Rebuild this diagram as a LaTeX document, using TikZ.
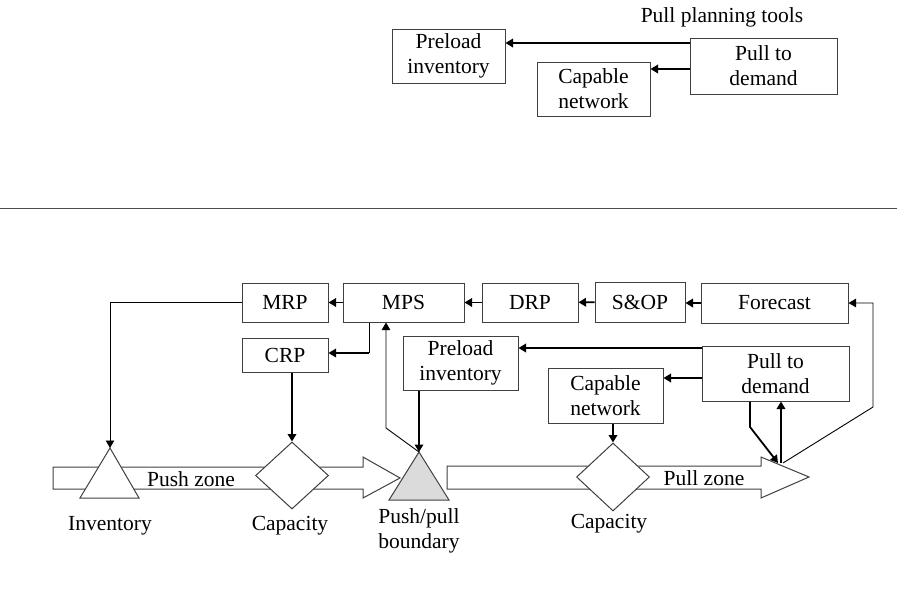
\documentclass[tikz,border=0pt]{standalone}
\usepackage{fontspec}
\setmainfont{Liberation Serif}
\usetikzlibrary{arrows.meta,shapes.geometric}

\begin{document}
\begin{tikzpicture}[x=1pt,y=-1pt,
  txt/.style={font=\fontsize{21.5}{25}\selectfont},
  box/.style={txt, draw=black!75, line width=1pt, fill=white, inner sep=0pt, align=center},
  lbl/.style={txt, inner sep=0pt, align=center},
  tip/.style={-{Triangle[length=7.5pt,width=8.5pt]}},
  thk/.style={line width=1.8pt, tip},
  thn/.style={line width=0.9pt, tip},
  plain/.style={line width=0.9pt},
  zone/.style={draw=black!75, line width=1pt, fill=white},
  dia/.style={diamond, draw=black!75, line width=1pt, fill=white, inner sep=0pt,
              minimum width=73pt, minimum height=67pt},
  tri/.style={draw=black!75, line width=1pt, fill=white},
]
\useasboundingbox (0,0) rectangle (897,590);

% ---------- pull planning tools legend ----------
\node[lbl, anchor=base] (title) at (722,22) {Pull planning tools};
\node[box, minimum width=113pt, minimum height=54pt] (pre1) at (448.5,56) {Preload\\inventory};
\node[box, minimum width=113pt, minimum height=54pt] (cap1) at (593.5,89) {Capable\\network};
\node[box, minimum width=147pt, minimum height=56pt] (ptd1) at (763.5,66) {Pull to\\demand};
\coordinate (r1) at (0,43);
\coordinate (r2) at (0,69);
\draw[thk] (ptd1.west |- r1) -- (pre1.east |- r1);
\draw[thk] (ptd1.west |- r2) -- (cap1.east |- r2);

% separator
\draw[line width=0.9pt, black!70] (0,208) -- (897,208);

% ---------- zone block arrows ----------
\draw[zone] (53,467) -- (363,467) -- (363,457) -- (400,478) -- (363,498) -- (363,489) -- (53,489) -- cycle;
\draw[zone] (447,466) -- (761,466) -- (761,457) -- (809,477) -- (761,498) -- (761,489) -- (447,489) -- cycle;
\node[lbl, anchor=base] (pushz) at (191,486) {Push zone};
\node[lbl, anchor=base] (pullz) at (704,485) {Pull zone};

% markers on the flow
\coordinate (inv) at (110,448);
\draw[tri] (inv) -- (80,498) -- (139,498) -- cycle;
\node[dia] (dia1) at (292,475.5) {};
\coordinate (bnd) at (419,452);
\draw[tri, fill=black!14] (bnd) -- (389,500) -- (449,500) -- cycle;
\node[dia, minimum height=68pt] (dia2) at (613,477) {};

\node[lbl, anchor=base] (invl) at (110,530) {Inventory};
\node[lbl, anchor=base] (capl1) at (290,530) {Capacity};
\node[lbl] (bndl) at (419,531) {Push/pull\\boundary};
\node[lbl, anchor=base] (capl2) at (609,528) {Capacity};

% ---------- planning chain ----------
\node[box, minimum width=86pt, minimum height=39pt] (mrp) at (285,302.5) {MRP};
\node[box, minimum width=121pt, minimum height=39pt] (mps) at (403.5,302.5) {MPS};
\node[box, minimum width=96pt, minimum height=39pt] (drp) at (530,302.5) {DRP};
\node[box, minimum width=90pt, minimum height=40pt] (sop) at (640,302) {S\&OP};
\node[box, minimum width=147pt, minimum height=40pt] (fc) at (774.5,303) {Forecast};
\node[box, minimum width=86pt, minimum height=34pt] (crp) at (285,355) {CRP};
\node[box, minimum width=115pt, minimum height=54pt] (pre) at (460.5,363) {Preload\\inventory};
\node[box, minimum width=115pt, minimum height=55pt] (cap) at (605.5,395.5) {Capable\\network};
\node[box, minimum width=147pt, minimum height=55pt] (ptd) at (775.5,373.5) {Pull to\\demand};

\draw[thk] (mps) -- (mrp);
\draw[thk] (drp) -- (mps);
\draw[thk] (sop) -- (drp);
\draw[thk] (fc) -- (sop.east |- fc.west);

% MRP drives inventory
\draw[thn] (mrp.west) -| (inv);
% MPS drives CRP, CRP checks capacity
\coordinate (m1) at (369,353);
\draw[plain] (mps.south -| m1) -- (m1);
\draw[line width=1.5pt, tip] (m1) -- (crp.east |- m1);
\draw[thk] (crp.south -| dia1.north) -- (dia1.north);
% boundary feeds back to MPS
\coordinate (b1) at (386,428);
\draw[thn] (bnd) -- (b1) -- (mps.south -| b1);
% preload inventory to boundary
\draw[thk] (pre.south -| bnd) -- (bnd);

% pull tools
\coordinate (r3) at (0,348);
\coordinate (r4) at (0,378);
\draw[thk] (ptd.west |- r3) -- (pre.east |- r3);
\draw[thk] (ptd.west |- r4) -- (cap.east |- r4);
\draw[thk] (cap.south -| dia2.north) -- (dia2.north);

\coordinate (p1) at (750,427);
\coordinate (p2) at (778,463);
\coordinate (p3) at (781,463);
\draw[thk] (ptd.south -| p1) -- (p1) -- (p2);
\draw[thk] (p3) -- (ptd.south -| p3);

% demand signal back to forecast
\coordinate (fb) at (783,463);
\coordinate (f1) at (873,407);
\coordinate (f2) at (873,303);
\draw[thn] (fb) -- (f1) -- (f2) -- (fc.east |- f2);
\end{tikzpicture}
\end{document}
